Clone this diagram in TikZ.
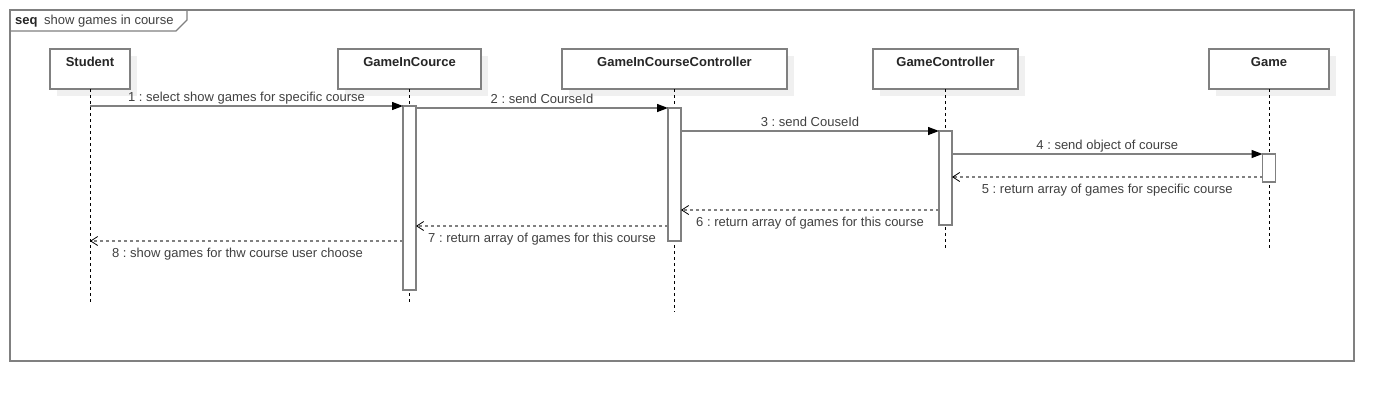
\documentclass[tikz,border=0pt]{standalone}
\usepackage{fontspec}
\setmainfont{Liberation Sans}
\usetikzlibrary{arrows.meta,shadows,positioning}
\frenchspacing

\definecolor{umlGray}{HTML}{808080}
\definecolor{umlText}{HTML}{404040}
\newcommand\umlfont{\fontsize{13pt}{15pt}\selectfont}

\tikzset{
	head/.style={draw=umlGray,line width=1.5pt,fill=white,anchor=west,outer sep=0pt,minimum height=40pt,general shadow={fill=black!6,shadow xshift=7pt,shadow yshift=-7pt}},
	headtxt/.style={anchor=north,yshift=-5pt,font=\umlfont\bfseries,text=black!85},
	act/.style={draw=umlGray,line width=1.5pt,fill=white,anchor=north,outer sep=0pt,minimum width=13pt,inner sep=0pt},
	life/.style={draw=black,line width=0.8pt,dash pattern=on 3pt off 3pt},
	call/.style={draw=umlGray,line width=1.3pt,-{Triangle[length=11pt,width=8pt,color=black]}},
	ret/.style={draw=umlGray,line width=1.3pt,dash pattern=on 3pt off 3pt,-{Straight Barb[length=7pt,width=9pt,color=black,line width=0.8pt]}},
	msgtxt/.style={text=umlText,inner sep=1pt,text height=9pt,text depth=2.5pt},
	frame/.style={draw=umlGray,line width=1.3pt}
}

\begin{document}
\begin{tikzpicture}[x=1pt,y=-1pt,font=\umlfont]
	\useasboundingbox (0,0) rectangle (1394,402);
	\draw [frame] (10,10) rectangle (1354,361);
	\draw [frame] (10,31) -- (176,31) -- (187,20) -- (187,10);
	\node [anchor=base west,inner sep=0pt,text=umlText] (title) at (15,24.5) {\textbf{\color{black!85}seq}\hspace{3pt} show games in course};

	\node [head,minimum width=80pt,label={[headtxt]north:Student}] (student) at (50,69) {};
	\node [head,minimum width=143pt,label={[headtxt]north:GameInCource}] (gic) at ([xshift=208pt]student.east) {};
	\node [head,minimum width=225pt,label={[headtxt]north:GameInCourseController}] (gicc) at ([xshift=81pt]gic.east) {};
	\node [head,minimum width=145pt,label={[headtxt]north:GameController}] (gc) at ([xshift=86pt]gicc.east) {};
	\node [head,minimum width=120pt,label={[headtxt]north:Game}] (game) at ([xshift=191pt]gc.east) {};

	\foreach \n/\l in {student/213,gic/213,gicc/223,gc/159,game/159}
		\draw [life] (\n.south) -- ++(0,\l);

	\node [act,minimum height=184pt] (gicAct) at ([yshift=-17pt]gic.south) {};
	\node [act,minimum height=133pt] (giccAct) at ([yshift=-19pt]gicc.south) {};
	\node [act,minimum height=94pt] (gcAct) at ([yshift=-42pt]gc.south) {};
	\node [act,minimum height=28pt] (gameAct) at ([yshift=-65pt]game.south) {};

	\draw [call] (student.south |- gicAct.north) -- (gicAct.north west) node [midway,above,msgtxt] {1 : select show games for specific course};
	\draw [call] (gicAct.east |- giccAct.north) -- (giccAct.north west) node [midway,above,msgtxt] {2 : send CourseId};
	\draw [call] (giccAct.east |- gcAct.north) -- (gcAct.north west) node [midway,above,msgtxt] {3 : send CouseId};
	\draw [call] (gcAct.east |- gameAct.north) -- (gameAct.north west) node [midway,above,msgtxt] {4 : send object of course};

	\coordinate (r5) at ([yshift=5pt]gameAct.south west);
	\coordinate (r6) at ([yshift=15pt]gcAct.south west);
	\coordinate (r7) at ([yshift=15pt]giccAct.south west);
	\coordinate (r8) at (giccAct.south -| gicAct.west);
	\draw [ret] (r5) -- (r5 -| gcAct.east) node [midway,below=6pt,msgtxt] {5 : return array of games for specific course};
	\draw [ret] (r6) -- (r6 -| giccAct.east) node [midway,below=6pt,msgtxt] {6 : return array of games for this course};
	\draw [ret] (r7) -- (r7 -| gicAct.east) node [midway,below=6pt,msgtxt] {7 : return array of games for this course};
	\draw [ret] (r8) -- (r8 -| student.south) node [midway,below=6pt,xshift=-9pt,msgtxt] {8 : show games for thw course user choose};
\end{tikzpicture}
\end{document}
